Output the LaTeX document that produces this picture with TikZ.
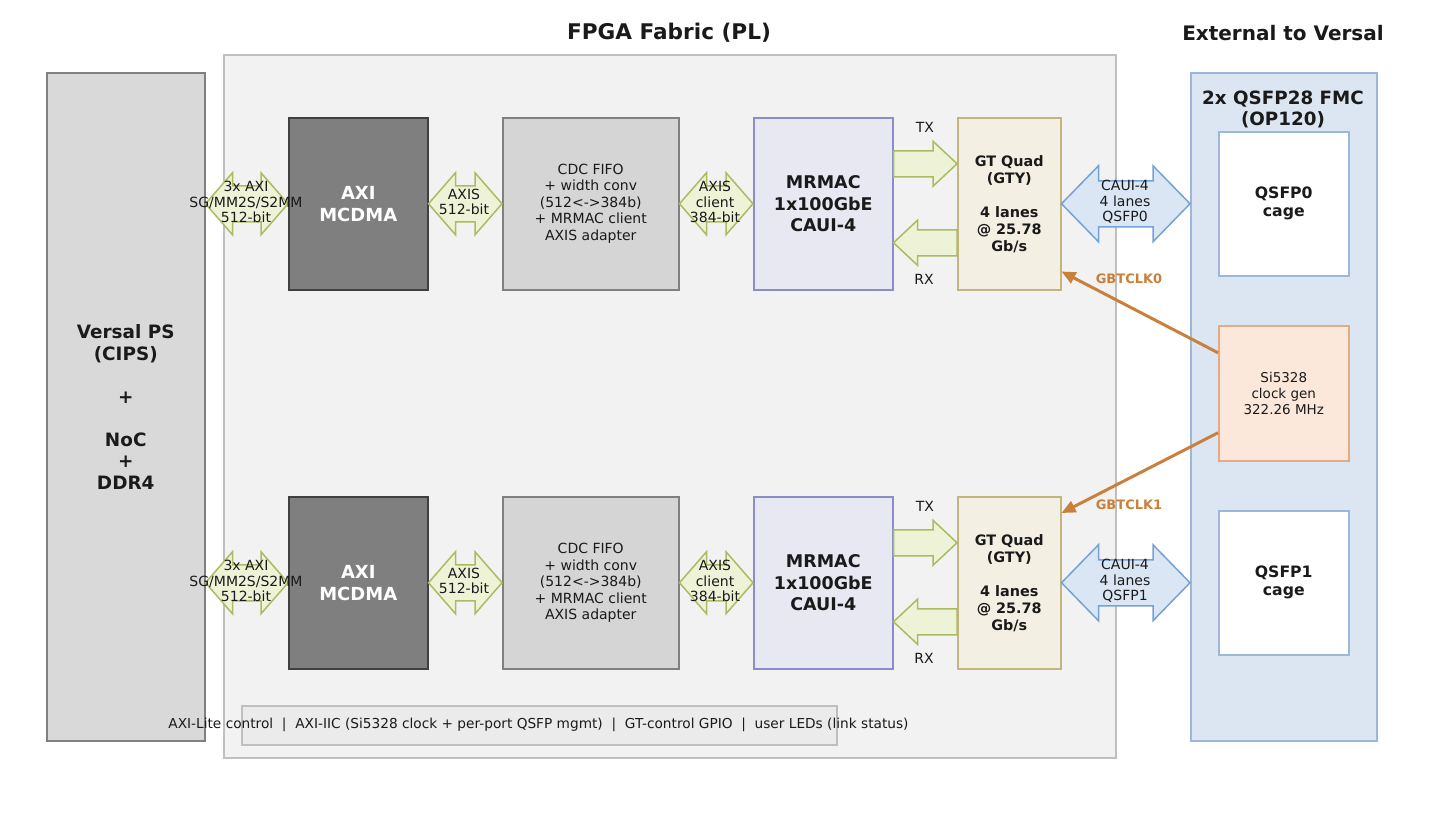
\documentclass[tikz,border=0pt]{standalone}
\usepackage{fontspec}
\setmainfont{DejaVu Sans}
\usetikzlibrary{calc,arrows.meta}
\definecolor{txt}{HTML}{1A1A1A}
\definecolor{psfill}{HTML}{D9D9D9}
\definecolor{psdraw}{HTML}{808080}
\definecolor{fabfill}{HTML}{F2F2F2}
\definecolor{fabdraw}{HTML}{BFBFBF}
\definecolor{mcfill}{HTML}{7F7F7F}
\definecolor{mcdraw}{HTML}{404040}
\definecolor{cdcfill}{HTML}{D5D5D5}
\definecolor{mrfill}{HTML}{E8E8F2}
\definecolor{mrdraw}{HTML}{8C8CC8}
\definecolor{gtfill}{HTML}{F3EFE3}
\definecolor{gtdraw}{HTML}{C2B580}
\definecolor{fmcfill}{HTML}{DCE6F2}
\definecolor{fmcdraw}{HTML}{9DB7D8}
\definecolor{sifill}{HTML}{FBE8DA}
\definecolor{sidraw}{HTML}{E3AA86}
\definecolor{grfill}{HTML}{EEF3D8}
\definecolor{grdraw}{HTML}{A9BC5F}
\definecolor{blfill}{HTML}{DAE6F4}
\definecolor{bldraw}{HTML}{75A2D6}
\definecolor{clk}{HTML}{C8803B}
\definecolor{barfill}{HTML}{EBEBEB}
\newcommand\myfs[2]{\fontsize{#1}{#2}\selectfont}
% double block arrow: style, left coord, right coord, half head, half shaft, head length
\newcommand\dblarrow[6]{%
  \draw[#1] let \p1=(#2), \p2=(#3) in
    (\x1,\y1) -- ({\x1+#6},{\y1+#4}) -- ({\x1+#6},{\y1+#5}) -- ({\x2-#6},{\y1+#5})
    -- ({\x2-#6},{\y1+#4}) -- (\x2,\y1) -- ({\x2-#6},{\y1-#4}) -- ({\x2-#6},{\y1-#5})
    -- ({\x1+#6},{\y1-#5}) -- ({\x1+#6},{\y1-#4}) -- cycle;}
% single block arrow: style, tail coord, tip coord, half head, half shaft, signed head length
\newcommand\sglarrow[6]{%
  \draw[#1] let \p1=(#2), \p2=(#3) in
    (\x1,{\y1+#5}) -- ({\x2-(#6)},{\y1+#5}) -- ({\x2-(#6)},{\y1+#4}) -- (\x2,\y1)
    -- ({\x2-(#6)},{\y1-#4}) -- ({\x2-(#6)},{\y1-#5}) -- (\x1,{\y1-#5}) -- cycle;}
\begin{document}
\begin{tikzpicture}[x=1pt,y=-1pt,
  box/.style={draw, line width=1.5pt, inner sep=0pt, anchor=north west, align=center, text=txt},
  psbox/.style={box, fill=psfill, draw=psdraw, minimum width=158pt, minimum height=668pt, font=\myfs{18.4}{21.5}\bfseries},
  fabbox/.style={box, fill=fabfill, draw=fabdraw, minimum width=892pt, minimum height=703pt},
  fmcbox/.style={box, fill=fmcfill, draw=fmcdraw, minimum width=186pt, minimum height=668pt},
  mcbox/.style={box, fill=mcfill, draw=mcdraw, minimum width=139pt, minimum height=172pt, text=white, font=\myfs{18}{22}\bfseries},
  cdcbox/.style={box, fill=cdcfill, draw=psdraw, minimum width=176pt, minimum height=172pt, font=\myfs{14}{16.5}},
  mrbox/.style={box, fill=mrfill, draw=mrdraw, minimum width=139pt, minimum height=172pt, font=\myfs{17.5}{21.5}\bfseries},
  gtbox/.style={box, fill=gtfill, draw=gtdraw, minimum width=103pt, minimum height=172pt, font=\myfs{14.4}{17}\bfseries},
  qbox/.style={box, fill=white, draw=fmcdraw, minimum width=130pt, minimum height=144pt, font=\myfs{15.7}{18}\bfseries},
  sibox/.style={box, fill=sifill, draw=sidraw, minimum width=130pt, minimum height=135pt, font=\myfs{13.5}{16}},
  barbox/.style={box, fill=barfill, draw=fabdraw, minimum width=595pt, minimum height=39pt},
  title/.style={font=\myfs{20}{24}\bfseries, text=txt, align=center},
  lbl/.style={font=\myfs{14}{15.5}, text=txt, align=center, inner sep=0pt},
  clklbl/.style={font=\myfs{13}{15}\bfseries, text=clk, inner sep=0pt},
  grarrow/.style={fill=grfill, draw=grdraw, line width=1.5pt, line join=miter},
  blarrow/.style={fill=blfill, draw=bldraw, line width=1.5pt, line join=miter},
  clkarrow/.style={draw=clk, line width=3pt, -{Triangle[length=14pt,width=12pt]}}
]
\useasboundingbox (0,0) rectangle (1431,812);

% containers
\node[fabbox] (fab) at (223,54) {};
\node[psbox] (ps) at (46,72) {Versal PS\\(CIPS)\\ \\+\\ \\NoC\\+\\DDR4};
\node[fmcbox] (fmc) at (1190,72) {};
\node[title, font=\myfs{21.6}{24}\bfseries] (fabt) at (669,33) {FPGA Fabric (PL)};
\node[title] (extt) at (1283,33) {External to Versal};
\node[title, font=\myfs{18.3}{21}\bfseries] (fmct) at (1283,109) {2x QSFP28 FMC\\(OP120)};

% FMC contents
\node[qbox] (q0) at (1218,131) {QSFP0\\cage};
\node[sibox] (si) at (1218,325) {Si5328\\clock gen\\322.26 MHz};
\node[qbox] (q1) at (1218,510) {QSFP1\\cage};

% row 1
\node[mcbox] (mc1) at (288,117) {AXI\\MCDMA};
\node[cdcbox] (cdc1) at (502,117) {CDC FIFO\\+ width conv\\(512<->384b)\\+ MRMAC client\\AXIS adapter};
\node[mrbox] (mr1) at (753,117) {MRMAC\\1x100GbE\\CAUI-4};
\node[gtbox] (gt1) at (957,117) {GT Quad\\(GTY)\\ \\4 lanes\\@ 25.78\\Gb/s};

% row 2
\node[mcbox] (mc2) at (288,496) {AXI\\MCDMA};
\node[cdcbox] (cdc2) at (502,496) {CDC FIFO\\+ width conv\\(512<->384b)\\+ MRMAC client\\AXIS adapter};
\node[mrbox] (mr2) at (753,496) {MRMAC\\1x100GbE\\CAUI-4};
\node[gtbox] (gt2) at (957,496) {GT Quad\\(GTY)\\ \\4 lanes\\@ 25.78\\Gb/s};

% bottom bar
\node[barbox] (bar) at (241,705) {};
\node[inner sep=0pt, text=txt, font=\myfs{13.7}{16}] (bart) at (538.5,725)
  {AXI-Lite control \ | \ AXI-IIC (Si5328 clock + per-port QSFP mgmt) \ | \ GT-control GPIO \ | \ user LEDs (link status)};

% block arrows row 1
\dblarrow{grarrow}{ps.east |- mc1.west}{mc1.west}{31pt}{18pt}{27pt}
\dblarrow{grarrow}{mc1.east}{cdc1.west}{31pt}{18pt}{27pt}
\dblarrow{grarrow}{cdc1.east}{mr1.west}{31pt}{18pt}{27pt}
\sglarrow{grarrow}{[yshift=40pt]mr1.east}{[yshift=40pt]gt1.west}{22.5pt}{13pt}{24pt}
\sglarrow{grarrow}{[yshift=-39pt]gt1.west}{[yshift=-39pt]mr1.east}{22.5pt}{13pt}{-24pt}
\dblarrow{blarrow}{gt1.east}{fmc.west |- gt1.east}{38pt}{23pt}{37pt}

% block arrows row 2
\dblarrow{grarrow}{ps.east |- mc2.west}{mc2.west}{31pt}{18pt}{27pt}
\dblarrow{grarrow}{mc2.east}{cdc2.west}{31pt}{18pt}{27pt}
\dblarrow{grarrow}{cdc2.east}{mr2.west}{31pt}{18pt}{27pt}
\sglarrow{grarrow}{[yshift=40pt]mr2.east}{[yshift=40pt]gt2.west}{22.5pt}{13pt}{24pt}
\sglarrow{grarrow}{[yshift=-39pt]gt2.west}{[yshift=-39pt]mr2.east}{22.5pt}{13pt}{-24pt}
\dblarrow{blarrow}{gt2.east}{fmc.west |- gt2.east}{38pt}{23pt}{37pt}

% arrow labels
\node[lbl] (a1) at (246,202) {3x AXI\\SG/MM2S/S2MM\\512-bit};
\node[lbl] (a2) at (464,202) {AXIS\\512-bit};
\node[lbl] (a3) at (715,202) {AXIS\\client\\384-bit};
\node[lbl] (tx1) at (925,127) {TX};
\node[lbl] (rx1) at (924,279) {RX};
\node[lbl] (c1) at (1125,202) {CAUI-4\\4 lanes\\QSFP0};
\node[lbl] (a4) at (246,581) {3x AXI\\SG/MM2S/S2MM\\512-bit};
\node[lbl] (a5) at (464,581) {AXIS\\512-bit};
\node[lbl] (a6) at (715,581) {AXIS\\client\\384-bit};
\node[lbl] (tx2) at (925,506) {TX};
\node[lbl] (rx2) at (924,658) {RX};
\node[lbl] (c2) at (1125,581) {CAUI-4\\4 lanes\\QSFP1};

% clock arrows
\draw[clkarrow] ([yshift=40.5pt]si.west) -- ([yshift=19pt]gt1.south east);
\draw[clkarrow] ([yshift=-39.5pt]si.west) -- ([yshift=-17pt]gt2.north east);
\node[clklbl] (g0) at (1129,279) {GBTCLK0};
\node[clklbl] (g1) at (1129,505) {GBTCLK1};
\end{tikzpicture}
\end{document}
